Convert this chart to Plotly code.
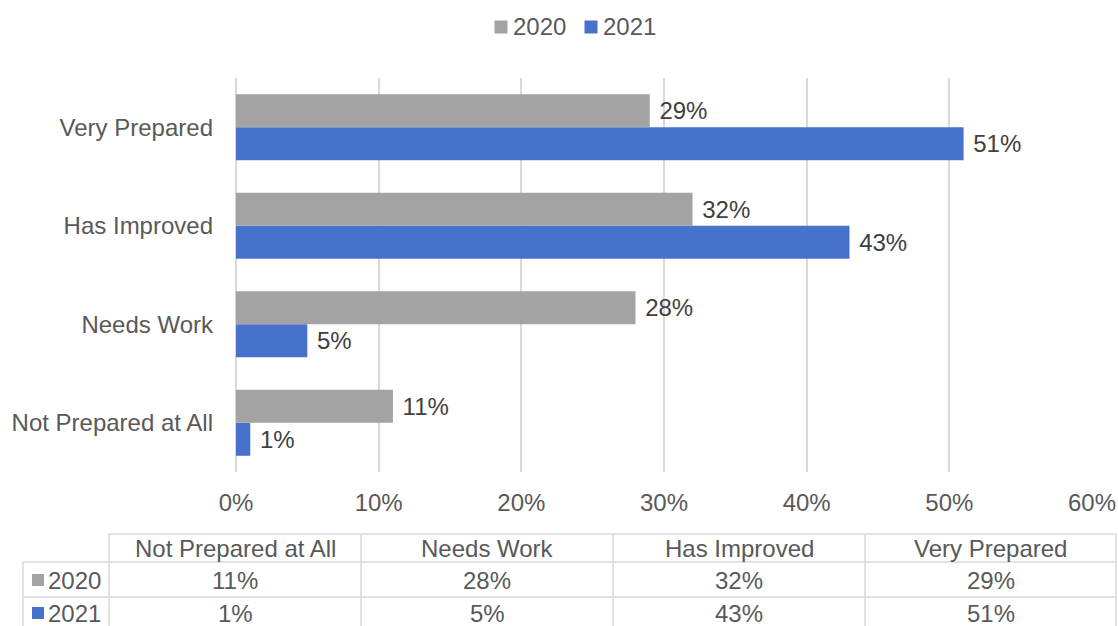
import plotly.graph_objects as go

# Survey responses on preparedness, share of respondents (%)
categories = ["Not Prepared at All", "Needs Work", "Has Improved", "Very Prepared"]
years = ["2020", "2021"]
values_2020 = [11, 28, 32, 29]
values_2021 = [1, 5, 43, 51]
x_ticks = [0, 10, 20, 30, 40, 50, 60]
x_tick_labels = [f"{t}%" for t in x_ticks]

GRAY = "#A3A3A3"
BLUE = "#4672CB"
GRID = "#D9D9D9"
TEXT = "#595959"
LABEL = "#404040"
FONT = "Liberation Sans, Arial, sans-serif"
FS = 24

W, H = 1118, 626
ML, MR, MT, MB = 236, 26, 78, 154
PW, PH = W - ML - MR, H - MT - MB


def px_x(px):
    return (px - ML) / PW


def px_y(py):
    return (H - MB - py) / PH


fig = go.Figure()

# 2021 first so it sits below 2020 inside each group
fig.add_trace(go.Bar(
    y=categories, x=values_2021, name="2021", orientation="h",
    marker=dict(color=BLUE, line=dict(width=0)),
    texttemplate="\u00a0%{x}%", textposition="outside",
    textfont=dict(size=FS, color=LABEL, family=FONT), cliponaxis=False,
))
fig.add_trace(go.Bar(
    y=categories, x=values_2020, name="2020", orientation="h",
    marker=dict(color=GRAY, line=dict(width=0)),
    texttemplate="\u00a0%{x}%", textposition="outside",
    textfont=dict(size=FS, color=LABEL, family=FONT), cliponaxis=False,
))

shapes = []
annotations = []


def swatch(cx, cy, color, half=6.5):
    shapes.append(dict(type="rect", xref="paper", yref="paper",
                       x0=px_x(cx - half), x1=px_x(cx + half),
                       y0=px_y(cy + half), y1=px_y(cy - half),
                       fillcolor=color, line=dict(width=0)))


def label(text, x, y, anchor="left", color=TEXT):
    annotations.append(dict(
        text=text, xref="paper", yref="paper", x=px_x(x), y=px_y(y),
        xanchor=anchor, yanchor="middle", showarrow=False,
        font=dict(size=FS, color=color, family=FONT)))


# Legend across the top
legend_items = [("2020", GRAY, 501), ("2021", BLUE, 591)]
for name, color, sx in legend_items:
    swatch(sx, 27, color)
    label(name, sx + 10, 27)

# Data table beneath the chart
col_edges = [109, 361, 613, 865, 1116]
row_edges = [534, 562, 597, 640]
label_left = 23
line = dict(color=GRID, width=1.5)


def hline(x0, x1, y):
    shapes.append(dict(type="line", xref="paper", yref="paper",
                       x0=px_x(x0), x1=px_x(x1), y0=px_y(y), y1=px_y(y), line=line))


def vline(x, y0, y1):
    shapes.append(dict(type="line", xref="paper", yref="paper",
                       x0=px_x(x), x1=px_x(x), y0=px_y(y0), y1=px_y(y1), line=line))


hline(col_edges[0], col_edges[-1], row_edges[0])
hline(label_left, col_edges[-1], row_edges[1])
hline(label_left, col_edges[-1], row_edges[2])
vline(label_left, row_edges[1], row_edges[3])
for cx in col_edges:
    vline(cx, row_edges[0], row_edges[3])

for i, cat in enumerate(categories):
    label(cat, (col_edges[i] + col_edges[i + 1]) / 2, 548, anchor="center")

rows = [("2020", values_2020, GRAY, 580), ("2021", values_2021, BLUE, 613)]
for name, vals, color, cy in rows:
    swatch(38, cy, color, half=6)
    label(name, 46, cy)
    for i, v in enumerate(vals):
        label(f"{v}%", (col_edges[i] + col_edges[i + 1]) / 2, cy, anchor="center")

fig.update_layout(
    width=W, height=H,
    margin=dict(l=ML, r=MR, t=MT, b=MB, pad=0, autoexpand=False),
    paper_bgcolor="white", plot_bgcolor="white",
    barmode="group", bargap=0.33, bargroupgap=0,
    font=dict(family=FONT, size=FS, color=TEXT),
    showlegend=False,
    xaxis=dict(range=[0, 60], tickvals=x_ticks, ticktext=x_tick_labels,
               showgrid=True, gridcolor=GRID, gridwidth=1.5,
               zeroline=True, zerolinecolor=GRID, zerolinewidth=1.5,
               showline=False, ticks="", ticklabelstandoff=14,
               tickfont=dict(size=FS, color=TEXT, family=FONT), fixedrange=True),
    yaxis=dict(type="category", categoryorder="array", categoryarray=categories,
               showgrid=False, zeroline=False, showline=False, ticks="",
               ticklabelstandoff=22,
               tickfont=dict(size=FS, color=TEXT, family=FONT), fixedrange=True),
    shapes=shapes,
    annotations=annotations,
)

fig.write_html("out.html", config={"displayModeBar": False})
